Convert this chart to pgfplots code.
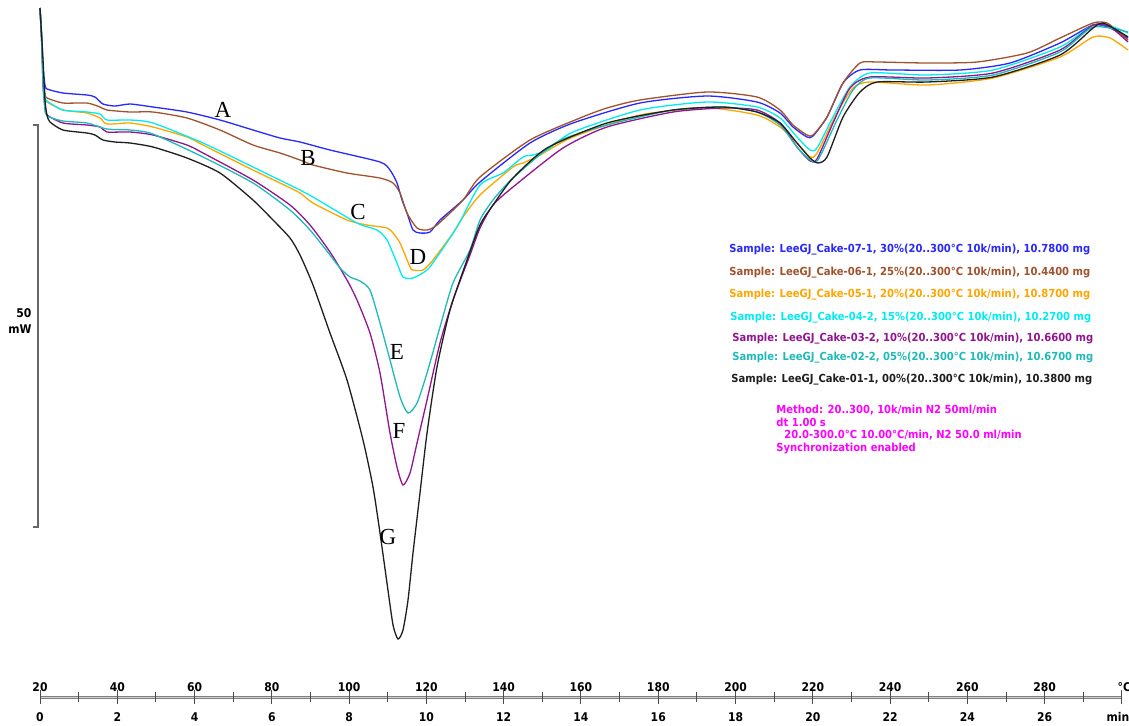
\documentclass[border=0pt]{standalone}
\usepackage{fontspec}
\setmainfont{Liberation Serif}
\newfontfamily\dv{DejaVu Sans Condensed}
\usepackage{pgfplots}
\pgfplotsset{compat=1.18}
\definecolor{cA}{RGB}{40,40,255}
\definecolor{cB}{RGB}{160,82,45}
\definecolor{cC}{RGB}{255,165,0}
\definecolor{cD}{RGB}{0,235,240}
\definecolor{cE}{RGB}{145,20,145}
\definecolor{cF}{RGB}{32,185,185}
\definecolor{cG}{RGB}{30,30,30}
\definecolor{cM}{RGB}{255,0,255}
\newcommand\tkf{\dv\bfseries\fontsize{6}{7}\selectfont}
\newcommand\lgf{\dv\bfseries\fontsize{5.55}{6.5}\selectfont}
\begin{document}
\begin{tikzpicture}
\begin{axis}[at={(0,0)}, anchor=south west, scale only axis,
  width=564.5pt, height=362.5pt,
  xmin=9.648, xmax=301.83, ymin=0, ymax=725, y dir=reverse,
  hide axis, clip=false,
  every axis plot/.append style={line width=0.65pt, smooth, tension=0.4}]
% A: 30%
\addplot[cA] coordinates {(20.00,8) (20.52,40) (20.78,67) (21.29,85) (21.81,89) (25.95,93) (32.16,95) (34.23,97) (36.30,104) (39.41,106) (43.29,104) (49.24,107) (58.04,112) (66.58,120) (75.12,130) (82.11,138) (87.29,142) (95.05,150) (107.99,162) (110.58,170) (112.39,183) (113.69,200) (114.98,213) (116.53,230) (118.34,233) (120.93,232) (123.52,220) (129.47,200) (133.87,182) (146.81,143) (157.94,123) (175.28,103) (192.62,96) (205.56,102) (211.51,113) (214.88,127) (218.50,137) (220.06,136) (223.68,117) (227.82,83) (232.22,70) (240.76,70) (258.10,70) (271.04,63) (283.98,43) (292.52,25) (296.92,28) (301.57,38)};
% B: 25%
\addplot[cB] coordinates {(20.00,8) (20.52,45) (20.78,75) (21.29,94) (21.81,98) (25.95,103) (32.16,103) (35.53,107) (37.34,110) (43.29,112) (49.24,112) (58.04,118) (66.58,130) (75.12,145) (82.11,153) (87.29,160) (90.65,165) (99.45,173) (107.99,178) (111.36,183) (113.17,193) (114.98,213) (117.57,228) (120.16,230) (122.74,225) (129.47,200) (133.87,177) (146.81,140) (159.75,118) (166.74,108) (175.28,100) (192.62,92) (205.56,97) (211.51,110) (214.88,125) (218.50,135) (220.06,135) (223.68,117) (227.82,83) (232.22,63) (236.62,62) (249.56,63) (262.50,62) (275.44,53) (283.98,38) (292.52,23) (296.14,23) (299.50,33) (301.57,40)};
% C: 20%
\addplot[cC] coordinates {(20.00,8) (20.52,45) (20.78,80) (21.29,98) (21.81,102) (25.95,110) (32.16,113) (35.53,118) (37.34,124) (43.29,123) (49.24,127) (58.04,137) (62.18,145) (75.12,170) (82.11,183) (87.29,193) (90.65,203) (99.45,220) (104.63,225) (109.80,228) (111.36,233) (113.17,243) (115.76,267) (116.53,270) (119.12,270) (121.71,260) (126.88,233) (129.47,217) (133.87,195) (142.41,167) (145.00,163) (149.40,155) (157.94,137) (175.28,115) (192.62,108) (205.56,115) (211.51,127) (215.91,143) (219.28,157) (221.09,153) (226.26,113) (230.40,88) (234.80,82) (249.56,85) (266.64,78) (283.98,57) (292.52,37) (296.92,38) (301.57,50)};
% D: 15%
\addplot[cD] coordinates {(20.00,8) (20.52,45) (20.78,80) (21.29,97) (21.81,101) (25.95,110) (32.16,112) (35.53,114) (37.34,120) (43.29,120) (49.24,123) (62.18,143) (75.12,167) (87.29,190) (90.65,197) (102.04,223) (107.22,230) (109.80,240) (112.39,263) (113.94,277) (116.53,278) (120.16,270) (122.74,257) (127.92,227) (133.87,185) (139.83,173) (145.00,157) (147.59,155) (151.21,150) (157.94,132) (175.28,110) (192.62,102) (205.56,107) (211.51,118) (215.91,137) (219.28,150) (221.09,148) (225.23,117) (229.63,87) (234.80,73) (249.56,75) (266.64,70) (283.98,47) (292.52,25) (297.69,27) (301.57,33)};
% E: 10%
\addplot[cE] coordinates {(20.00,8) (20.52,50) (20.78,85) (21.29,108) (21.81,115) (25.95,123) (32.16,125) (35.53,127) (37.34,132) (43.29,132) (49.24,135) (58.04,145) (62.18,153) (75.12,180) (84.70,205) (89.88,225) (95.05,252) (99.45,280) (102.04,300) (105.40,333) (107.99,373) (110.58,433) (112.39,467) (113.94,485) (115.76,473) (117.57,443) (120.16,400) (123.52,343) (126.88,300) (131.28,255) (133.87,228) (137.24,205) (142.41,187) (155.35,148) (166.74,127) (183.82,112) (196.76,108) (205.56,110) (211.51,123) (215.91,147) (219.28,161) (221.09,159) (225.23,123) (229.63,88) (234.80,77) (249.56,78) (266.64,73) (283.98,50) (292.52,25) (296.92,27) (301.57,42)};
% F: 05%
\addplot[cF] coordinates {(20.00,8) (20.52,50) (20.78,85) (21.29,108) (21.81,116) (25.95,121) (32.16,123) (37.34,129) (43.29,130) (49.24,134) (62.18,157) (75.12,183) (84.70,210) (89.88,230) (95.05,255) (97.64,268) (100.23,277) (102.82,281) (105.40,290) (107.99,323) (110.58,360) (113.17,397) (115.24,413) (117.57,403) (120.16,373) (123.52,327) (126.88,283) (131.28,250) (133.87,220) (137.24,200) (142.41,178) (153.80,142) (166.74,125) (183.82,110) (196.76,107) (205.56,112) (211.51,125) (215.91,147) (219.28,160) (221.35,160) (226.26,120) (230.40,90) (234.80,78) (249.56,80) (266.64,75) (283.98,52) (292.52,27) (301.57,32)};
% G: 00%
\addplot[cG] coordinates {(20.00,8) (20.78,60) (21.29,100) (21.81,115) (22.59,122) (25.95,130) (32.16,133) (34.23,135) (36.30,140) (39.41,142) (43.29,143) (49.24,147) (58.04,158) (66.58,173) (75.12,200) (80.30,220) (84.70,238) (87.29,255) (90.65,285) (95.05,333) (99.45,380) (103.59,440) (106.18,487) (107.99,533) (109.80,583) (111.36,625) (112.65,639) (113.94,630) (115.24,600) (116.53,553) (118.34,493) (120.16,433) (122.74,367) (126.11,310) (130.51,260) (133.87,225) (137.24,205) (142.41,178) (151.21,148) (166.74,123) (183.82,110) (196.76,107) (205.56,112) (211.51,123) (215.91,143) (219.28,158) (221.35,163) (223.68,157) (227.82,117) (232.22,92) (236.62,82) (249.56,82) (266.64,77) (283.98,55) (292.52,28) (295.10,23) (299.50,32) (301.57,37)};
% curve letters
\node[font=\fontsize{11.5}{12}\selectfont] at (axis cs:67.36,110) {A};
\node[font=\fontsize{11.5}{12}\selectfont] at (axis cs:89.36,158) {B};
\node[font=\fontsize{11.5}{12}\selectfont] at (axis cs:102.30,212) {C};
\node[font=\fontsize{11.5}{12}\selectfont] at (axis cs:117.83,257) {D};
\node[font=\fontsize{11.5}{12}\selectfont] at (axis cs:112.39,352) {E};
\node[font=\fontsize{11.5}{12}\selectfont] at (axis cs:112.91,431) {F};
\node[font=\fontsize{11.5}{12}\selectfont] at (axis cs:110.06,537) {G};
% sample list
\begin{scope}[every node/.style={anchor=west, inner sep=0pt, font=\lgf}]
\node[text=cA] at (axis cs:198.31,250) {Sample: LeeGJ\_Cake-07-1, 30\%(20..300°C 10k/min), 10.7800 mg};
\node[text=cB] at (axis cs:198.31,273) {Sample: LeeGJ\_Cake-06-1, 25\%(20..300°C 10k/min), 10.4400 mg};
\node[text=cC] at (axis cs:198.31,295) {Sample: LeeGJ\_Cake-05-1, 20\%(20..300°C 10k/min), 10.8700 mg};
\node[text=cD] at (axis cs:198.57,318) {Sample: LeeGJ\_Cake-04-2, 15\%(20..300°C 10k/min), 10.2700 mg};
\node[text=cE] at (axis cs:199.09,339) {Sample: LeeGJ\_Cake-03-2, 10\%(20..300°C 10k/min), 10.6600 mg};
\node[text=cF] at (axis cs:199.09,358) {Sample: LeeGJ\_Cake-02-2, 05\%(20..300°C 10k/min), 10.6700 mg};
\node[text=cG] at (axis cs:198.83,380) {Sample: LeeGJ\_Cake-01-1, 00\%(20..300°C 10k/min), 10.3800 mg};
% method
\node[text=cM] at (axis cs:210.48,410) {Method: 20..300, 10k/min N2 50ml/min};
\node[text=cM] at (axis cs:210.48,422.5) {dt 1.00 s};
\node[text=cM] at (axis cs:212.55,435.5) {20.0-300.0°C 10.00°C/min, N2 50.0 ml/min};
\node[text=cM] at (axis cs:210.48,448) {Synchronization enabled};
\end{scope}
% scale bar 50 mW
\draw[black!60, line width=0.75pt] (axis cs:18.19,125) -- (axis cs:19.48,125) -- (axis cs:19.48,527) -- (axis cs:18.19,527);
\node[anchor=east, font=\tkf, inner sep=0pt] at (axis cs:17.9,313) {50};
\node[anchor=east, font=\tkf, inner sep=0pt] at (axis cs:17.9,329) {mW};
% bottom temperature / time axis
\draw[black!50, line width=1.5pt] (axis cs:20,697) -- (axis cs:300,697);
\draw[black!18, line width=0.5pt] (axis cs:20,697) -- (axis cs:300,697);
\pgfplotsinvokeforeach{0,...,13}{
  \draw[black!70, line width=0.5pt] (axis cs:{20+20*#1},690) -- (axis cs:{20+20*#1},704);
  \draw[black!70, line width=0.5pt] (axis cs:{30+20*#1},692) -- (axis cs:{30+20*#1},702);
  \node[font=\tkf] at (axis cs:{20+20*#1},687) {\pgfmathparse{int(20+20*#1)}\pgfmathresult};
  \node[font=\tkf] at (axis cs:{20+20*#1},717) {\pgfmathparse{int(2*#1)}\pgfmathresult};
}
\draw[black!70, line width=0.5pt] (axis cs:300,690) -- (axis cs:300,704);
\node[font=\tkf] at (axis cs:300.6,687) {°C};
\node[font=\tkf] at (axis cs:298.99,717) {min};
\end{axis}
\pgfresetboundingbox
\useasboundingbox (0,0) rectangle (564.5pt,362.5pt);
\end{tikzpicture}
\end{document}
